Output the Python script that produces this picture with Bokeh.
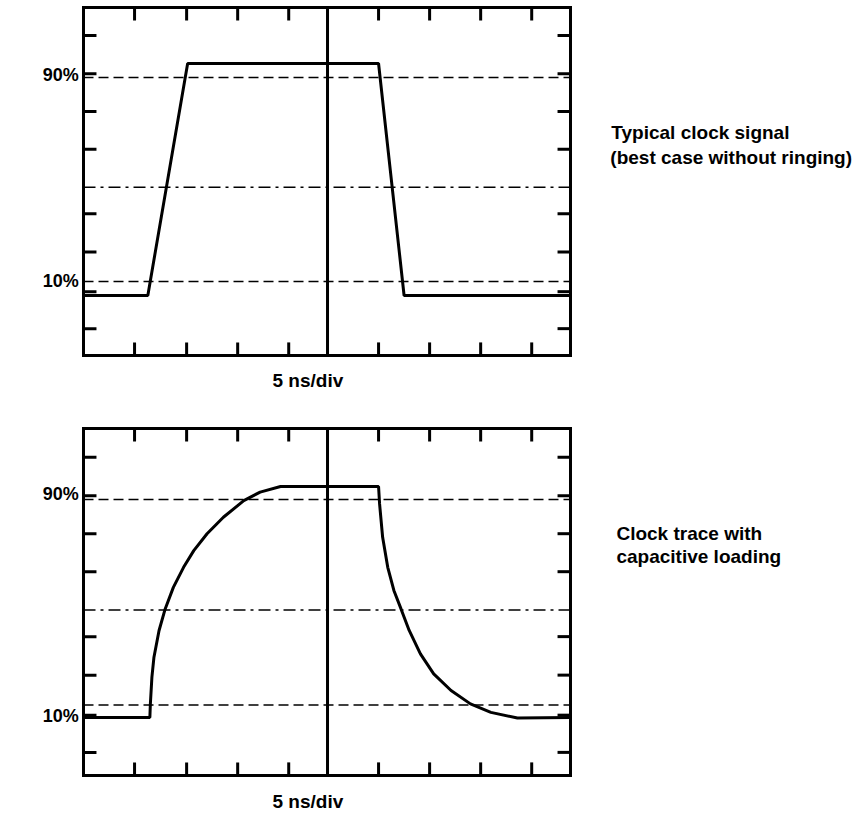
from bokeh.plotting import figure
from bokeh.layouts import column
from bokeh.core.properties import value
from bokeh.embed import file_html
from bokeh.resources import INLINE

# ---- data (time in ns relative to the centre graticule, amplitude in % of swing) ----
x_ticks = [-18.9, -13.8, -8.8, -3.8, 5.0, 10.0, 15.0, 20.0]
y_ticks = [106.5, 91.5, 76.7, 61.9, 36.6, 21.6, 6.0, -8.5]
ref_levels = [10.0, 90.0]
mid_level = 47.0
center_time = 0.0
t_span = [-23.9, 23.8]          # graticule time extent
top_v_span = [-19.0, 117.5]     # graticule amplitude extent, top panel
bot_v_span = [-17.5, 117.7]     # graticule amplitude extent, bottom panel

# top: typical clock signal (trapezoid)
top_t = [-23.9, -17.6, -13.7, 5.0, 7.5, 23.8]
top_v = [4.5, 4.5, 95.5, 95.5, 4.5, 4.5]

# bottom: clock trace with capacitive loading
bot_t = [-23.9, -17.4, -17.35, -17.2, -17.0, -16.5, -15.9, -15.1, -14.1, -13.1,
         -11.8, -10.2, -8.2, -6.6, -4.6, 5.0, 5.1, 5.4, 5.9, 6.5, 7.2, 8.0,
         9.1, 10.4, 12.1, 14.0, 16.0, 18.6, 23.8]
bot_v = [5.1, 5.1, 10.5, 20.8, 28.6, 39.0, 47.4, 55.8, 63.6, 70.1,
         76.7, 83.1, 89.6, 92.9, 95.1, 95.1, 88.3, 75.3, 63.6, 54.6, 47.4, 39.0,
         29.9, 22.1, 15.6, 10.4, 7.1, 4.9, 5.1]

level_labels = ["90%", "10%"]
top_texts = ["5 ns/div", "Typical clock signal", "(best case without ringing)"]
bot_texts = ["5 ns/div", "Clock trace with", "capacitive loading"]

FONT = "Liberation Sans"
TICK_T = 1.27   # tick length along time (ns)
TICK_V = 5.1    # tick length along amplitude (%)


def panel(height, x_rng, y_rng, vspan, t, v, lx, ly, texts, tx, ty):
    p = figure(width=867, height=height, x_range=x_rng, y_range=y_rng,
               x_axis_type=None, y_axis_type=None,
               output_backend="svg", toolbar_location=None,
               min_border_left=0, min_border_right=0,
               min_border_top=0, min_border_bottom=0)
    p.outline_line_color = None
    p.background_fill_color = "white"
    p.border_fill_color = "white"
    t0, t1 = t_span
    v0, v1 = vspan
    n = len(x_ticks)
    m = len(y_ticks)
    # reference levels
    p.segment(x0=[t0] * 2, x1=[t1] * 2, y0=ref_levels, y1=ref_levels,
              line_color="black", line_width=1.5, line_dash="10 5")
    p.segment(x0=[t0], x1=[t1], y0=[mid_level], y1=[mid_level],
              line_color="black", line_width=1.5, line_dash="12 5 3 5")
    # centre graticule line
    p.segment(x0=[center_time], x1=[center_time], y0=[v0], y1=[v1],
              line_color="black", line_width=3)
    # ticks on the four edges
    p.segment(x0=x_ticks, x1=x_ticks, y0=[v1] * n, y1=[v1 - TICK_V] * n,
              line_color="black", line_width=3)
    p.segment(x0=x_ticks, x1=x_ticks, y0=[v0] * n, y1=[v0 + TICK_V] * n,
              line_color="black", line_width=3)
    p.segment(x0=[t0] * m, x1=[t0 + TICK_T] * m, y0=y_ticks, y1=y_ticks,
              line_color="black", line_width=3)
    p.segment(x0=[t1] * m, x1=[t1 - TICK_T] * m, y0=y_ticks, y1=y_ticks,
              line_color="black", line_width=3)
    # graticule box
    p.quad(left=[t0], right=[t1], bottom=[v0], top=[v1], fill_color=None,
           line_color="black", line_width=3, line_join="miter")
    # trace
    p.line(t, v, line_color="black", line_width=3)
    # texts
    p.text(x=lx, y=ly, text=level_labels, text_font=value(FONT),
           text_font_size="18px", text_font_style="bold", text_color="black",
           text_baseline="alphabetic", text_align="left")
    p.text(x=tx, y=ty, text=texts, text_font=value(FONT), text_font_size="19px",
           text_font_style="bold", text_color="black",
           text_baseline="alphabetic", text_align="left")
    return p


p1 = panel(410, (-32.03, 52.89), (-40.6, 120.2), top_v_span, top_t, top_v,
           [-27.9, -27.9], [90.9, 10.1],
           top_texts, [-5.39, 27.8, 27.7], [-29.0, 68.3, 58.5])
p2 = panel(404, (-32.03, 52.89), (-32.7, 124.7), bot_v_span, bot_t, bot_v,
           [-27.9, -27.9], [92.1, 5.6],
           bot_texts, [-5.39, 28.3, 28.3], [-27.8, 76.8, 67.7])

layout = column(p1, p2, spacing=0)
open("out.html", "w").write(file_html(layout, INLINE))
